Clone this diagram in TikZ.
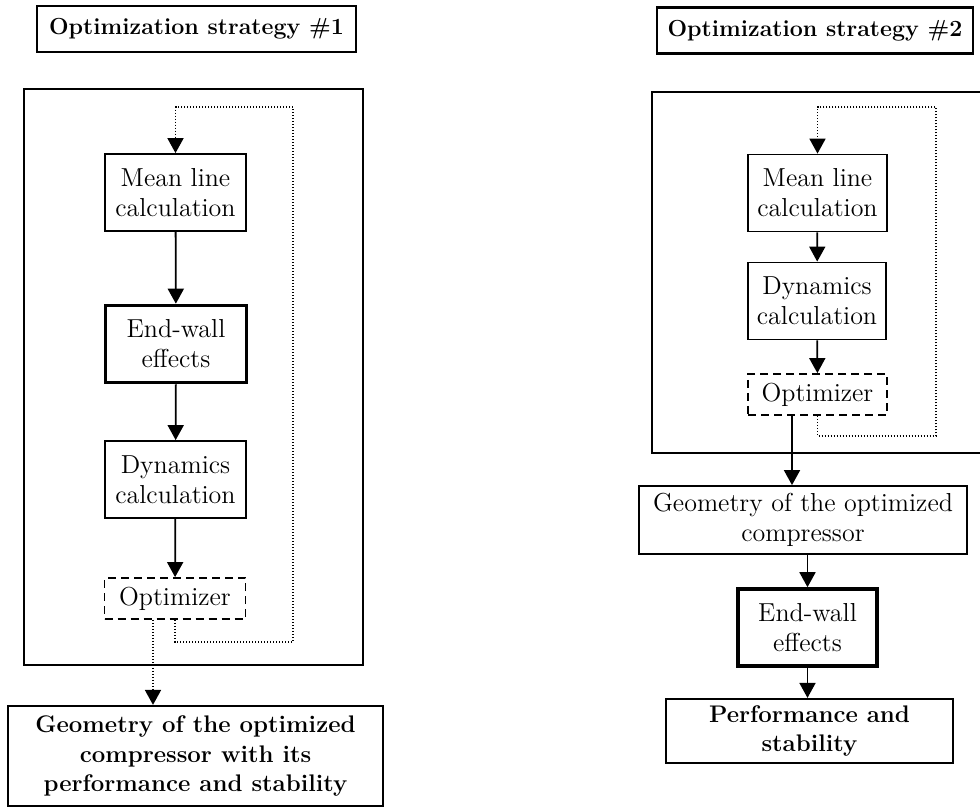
\documentclass[tikz,border=0pt]{standalone}
\usepackage{tikz}
\usetikzlibrary{positioning,arrows.meta,calc}
\tikzset{
stepbox/.style={
draw,
line width=0.9pt,
minimum width=70.5pt,
minimum height=38.5pt,
inner sep=1pt,
align=center,
font=\fontsize{13}{15}\selectfont
},
wallbox/.style={
stepbox,
line width=1.8pt
},
optbox/.style={
stepbox,
dash pattern=on 4pt off 2.5pt,
minimum height=20.5pt
},
headbox/.style={
draw,
line width=1.1pt,
minimum height=23pt,
inner sep=1pt,
align=center,
font=\bfseries\fontsize{12}{14.8}\selectfont
},
frame/.style={
draw,
line width=1.2pt
},
arrow/.style={
-{Triangle[length=7.5pt,width=8pt]},
line width=0.9pt
},
loopline/.style={
line width=0.9pt,
dash pattern=on 0.7pt off 0.8pt
}
}

\begin{document}
\begin{tikzpicture}[x=0.5pt,y=-0.5pt]
\useasboundingbox (0,0) rectangle (980,807);

% strategy 1
\node[headbox,minimum width=159.5pt,font=\bfseries\fontsize{11.6}{14}\selectfont](head1) at (196.5,29){Optimization strategy \#1};
\draw[frame] (24,89) rectangle (363,665);
\node[stepbox](mean1) at (175.5,192.5){Mean line\\calculation};
\node[wallbox](wall1) at (176,344){End-wall\\effects};
\node[stepbox](dyn1) at (175.5,479.5){Dynamics\\calculation};
\node[optbox](opt1) at (175,598.5){Optimizer};
\node[headbox,minimum width=187.5pt,minimum height=50pt](res1) at (195.5,756){Geometry of the optimized\\compressor with its\\performance and stability};

\foreach \x/\y in {mean1/wall1,wall1/dyn1,dyn1/opt1}
\draw[arrow](\x)--(\y);
\coordinate (fb1) at (293,107);
\draw[loopline,arrow] (opt1.south) -- ++(0,22) -| (fb1) -| (mean1.north);
\draw[loopline,arrow] ([xshift=-11pt]opt1.south) -- ([xshift=-11pt]opt1.south |- res1.north);

% strategy 2
\node[headbox,minimum width=158pt,font=\bfseries\fontsize{11.6}{14}\selectfont](head2) at (815,30.5){Optimization strategy \#2};
\draw[frame] (982,92) -- (652,92) -- (652,453) -- (982,453);
\node[stepbox,minimum width=69.5pt](mean2) at (817.5,193){Mean line\\calculation};
\node[stepbox,minimum width=69pt](dyn2) at (817,301){Dynamics\\calculation};
\node[optbox,minimum width=69.5pt](opt2) at (817.5,394.5){Optimizer};
\node[stepbox,minimum width=164pt,minimum height=34pt](geo2) at (803,520){Geometry of the optimized\\compressor};
\node[wallbox,minimum width=69.5pt](wall2) at (807.5,627.5){End-wall\\effects};
\node[headbox,minimum width=143.5pt,minimum height=32pt](perf2) at (809.5,731){Performance and\\stability};

\foreach \x/\y in {mean2/dyn2,dyn2/opt2}
\draw[arrow](\x)--(\y);
\draw[arrow] ([xshift=-12.75pt]opt2.south) -- ([xshift=-12.75pt]opt2.south |- geo2.north);
\draw[arrow] (wall2.north |- geo2.south) -- (wall2.north);
\draw[arrow] (wall2.south) -- (wall2.south |- perf2.north);
\coordinate (fb2) at (936,107);
\draw[loopline,arrow] (opt2.south) -- ++(0,20) -| (fb2) -| (mean2.north);
\end{tikzpicture}
\end{document}
